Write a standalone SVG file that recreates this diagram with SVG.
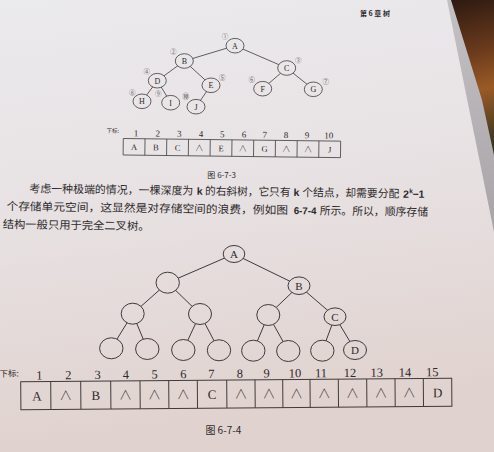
<svg xmlns="http://www.w3.org/2000/svg" width="494" height="452" viewBox="0 0 494 452">
<defs>
<linearGradient id="paper" gradientUnits="userSpaceOnUse" x1="0" y1="0" x2="60" y2="452">
<stop offset="0" stop-color="#ebeaed"/>
<stop offset="0.45" stop-color="#e8e2e4"/>
<stop offset="1" stop-color="#e0d2ce"/>
</linearGradient>
<linearGradient id="band" gradientUnits="userSpaceOnUse" x1="450" y1="0" x2="494" y2="220">
<stop offset="0" stop-color="#c4c1c5"/>
<stop offset="1" stop-color="#a9a5a9"/>
</linearGradient>
<linearGradient id="dark" gradientUnits="userSpaceOnUse" x1="455" y1="0" x2="494" y2="150">
<stop offset="0" stop-color="#2e1a12"/>
<stop offset="0.35" stop-color="#6a3a1c"/>
<stop offset="0.6" stop-color="#9a5a26"/>
<stop offset="1" stop-color="#2f3320"/>
</linearGradient>
</defs>
<style>
.edge{stroke:#3f3a3c;fill:none}
.e1{stroke-width:0.8}
.e2{stroke-width:1}
.nd{fill:url(#paper);stroke:#3f3a3c}
.n1{stroke-width:0.8}
.n2{stroke-width:1}
.lt{font-family:"Liberation Serif","DejaVu Serif",serif;fill:#2e2a2c;text-anchor:middle}
.cn{font-family:"Noto Sans CJK SC","Noto Sans",sans-serif;fill:#2e2a2c}
.num{font-family:"Noto Sans CJK SC","DejaVu Sans",sans-serif;fill:#6a6466;text-anchor:middle;font-size:6.5px}
.cell{fill:none;stroke:#3f3a3c}
.bs{font-family:"Liberation Sans","DejaVu Sans",sans-serif;font-weight:bold;fill:#2e2a2c}
.nul{font-family:"Noto Sans CJK SC","DejaVu Sans",sans-serif;font-weight:300;fill:#3a3537;text-anchor:middle}
</style>
<rect x="0" y="0" width="494" height="452" fill="url(#paper)"/>
<polygon points="447,0 494,0 494,232" fill="url(#band)"/>
<polygon points="451,0 494,0 494,155 482,100" fill="url(#dark)"/>

<text class="cn" x="360" y="16" font-size="7" font-weight="bold">第 6 章  树</text>

<!-- Figure 6-7-3 tree -->
<g id="edges1">
<line class="edge e1" x1="235" y1="45.7" x2="184.3" y2="61"/>
<line class="edge e1" x1="235" y1="45.7" x2="286.7" y2="68"/>
<line class="edge e1" x1="184.3" y1="61" x2="157.3" y2="80.7"/>
<line class="edge e1" x1="184.3" y1="61" x2="211" y2="85.3"/>
<line class="edge e1" x1="286.7" y1="68" x2="262.7" y2="88.7"/>
<line class="edge e1" x1="286.7" y1="68" x2="313.3" y2="89.3"/>
<line class="edge e1" x1="157.3" y1="80.7" x2="142" y2="101.3"/>
<line class="edge e1" x1="157.3" y1="80.7" x2="170.7" y2="102.7"/>
<line class="edge e1" x1="211" y1="85.3" x2="196" y2="106.7"/>
</g>
<g id="t1A"><ellipse class="nd n1" cx="235" cy="45.7" rx="9" ry="7.3"/><text class="lt" x="235" y="48.6" font-size="8">A</text><text class="num" x="225" y="38.8">①</text></g>
<g id="t1B"><ellipse class="nd n1" cx="184.3" cy="61" rx="9" ry="7.3"/><text class="lt" x="184.3" y="63.9" font-size="8">B</text><text class="num" x="173.3" y="54.4">②</text></g>
<g id="t1C"><ellipse class="nd n1" cx="286.7" cy="68" rx="9" ry="7.3"/><text class="lt" x="286.7" y="70.9" font-size="8">C</text><text class="num" x="298.3" y="62.8">③</text></g>
<g id="t1D"><ellipse class="nd n1" cx="157.3" cy="80.7" rx="9" ry="7.3"/><text class="lt" x="157.3" y="83.6" font-size="8">D</text><text class="num" x="146.7" y="73.8">④</text></g>
<g id="t1E"><ellipse class="nd n1" cx="211" cy="85.3" rx="9" ry="7.3"/><text class="lt" x="211" y="88.2" font-size="8">E</text><text class="num" x="222.3" y="80.4">⑤</text></g>
<g id="t1F"><ellipse class="nd n1" cx="262.7" cy="88.7" rx="9" ry="7.3"/><text class="lt" x="262.7" y="91.6" font-size="8">F</text><text class="num" x="251.7" y="82.4">⑥</text></g>
<g id="t1G"><ellipse class="nd n1" cx="313.3" cy="89.3" rx="9" ry="7.3"/><text class="lt" x="313.3" y="92.2" font-size="8">G</text><text class="num" x="325.7" y="84.1">⑦</text></g>
<g id="t1H"><ellipse class="nd n1" cx="142" cy="101.3" rx="9" ry="7.3"/><text class="lt" x="142" y="104.2" font-size="8">H</text><text class="num" x="132.3" y="94.8">⑧</text></g>
<g id="t1I"><ellipse class="nd n1" cx="170.7" cy="102.7" rx="9" ry="7.3"/><text class="lt" x="170.7" y="105.6" font-size="8">I</text><text class="num" x="158.3" y="96.4">⑨</text></g>
<g id="t1J"><ellipse class="nd n1" cx="196" cy="106.7" rx="9" ry="7.3"/><text class="lt" x="196" y="109.6" font-size="8">J</text><text class="num" x="185.7" y="99.1" fill="#2e2a2c" font-weight="bold">⑩</text></g>

<!-- Figure 6-7-3 array -->
<g id="arr1" transform="rotate(0.7 123.3 138.5)">
<text class="cn" x="106.5" y="133" font-size="5.5" fill="#555">下标:</text>
<rect class="cell" x="123.3" y="138.5" width="217.4" height="16.5" stroke-width="0.8"/>
<path class="cell" stroke-width="0.8" d="M145.04 138.5v16.5M166.78 138.5v16.5M188.52 138.5v16.5M210.26 138.5v16.5M232 138.5v16.5M253.74 138.5v16.5M275.48 138.5v16.5M297.22 138.5v16.5M318.96 138.5v16.5"/>
<g class="lt" font-size="9">
<text x="136" y="136">1</text><text x="157.7" y="136">2</text><text x="179.3" y="136">3</text><text x="201" y="136">4</text><text x="222.3" y="136">5</text><text x="244" y="136">6</text><text x="264.7" y="136">7</text><text x="286" y="136">8</text><text x="307" y="136">9</text><text x="328.7" y="136">10</text>
</g>
<g class="lt" font-size="8.5">
<text x="134.2" y="150">A</text><text x="155.9" y="150">B</text><text x="177.7" y="150">C</text><text x="221.2" y="150">E</text><text x="264.7" y="150">G</text><text x="329.9" y="150">J</text>
</g>
<g class="nul" font-size="8.5">
<text x="199.4" y="150">∧</text><text x="242.9" y="150">∧</text><text x="286.4" y="150">∧</text><text x="308.1" y="150">∧</text>
</g>
</g>
<text x="221.7" y="178" font-size="8" class="cn" text-anchor="middle">图 6-7-3</text>

<!-- paragraph -->
<g transform="rotate(0.8 0 190)">
<text class="cn" font-size="11" y="192"><tspan x="29.3" textLength="164" lengthAdjust="spacingAndGlyphs">考虑一种极端的情况，一棵深度为</tspan></text>
<text class="bs" font-size="10.5" x="196.8" y="192">k</text>
<text class="cn" font-size="11" y="192"><tspan x="205" textLength="85.5" lengthAdjust="spacingAndGlyphs">的右斜树，它只有</tspan></text>
<text class="bs" font-size="10.5" x="293.5" y="192">k</text>
<text class="cn" font-size="11" y="192"><tspan x="302.2" textLength="97.1" lengthAdjust="spacingAndGlyphs">个结点，却需要分配</tspan></text>
<text class="bs" font-size="10.5" x="403" y="192">2</text>
<text class="bs" font-size="6.5" x="409.3" y="187.5">k</text>
<text class="bs" font-size="10.5" x="412.5" y="192">−1</text>
<text class="cn" font-size="11" y="210"><tspan x="6.7" textLength="281.6" lengthAdjust="spacingAndGlyphs">个存储单元空间，这显然是对存储空间的浪费，例如图</tspan></text>
<text class="bs" font-size="10" x="294" y="210" textLength="22.7" lengthAdjust="spacingAndGlyphs">6-7-4</text>
<text class="cn" font-size="11" y="210"><tspan x="320" textLength="108.3" lengthAdjust="spacingAndGlyphs">所示。所以，顺序存储</tspan></text>
<text class="cn" font-size="11" y="228"><tspan x="3.3" textLength="146.7" lengthAdjust="spacingAndGlyphs">结构一般只用于完全二叉树。</tspan></text>
</g>

<!-- Figure 6-7-4 tree -->
<g id="edges2">
<line class="edge e2" x1="234" y1="254" x2="167.7" y2="282.7"/>
<line class="edge e2" x1="234" y1="254" x2="299" y2="285.7"/>
<line class="edge e2" x1="167.7" y1="282.7" x2="132.7" y2="313.7"/>
<line class="edge e2" x1="167.7" y1="282.7" x2="200" y2="314"/>
<line class="edge e2" x1="299" y1="285.7" x2="268.3" y2="315"/>
<line class="edge e2" x1="299" y1="285.7" x2="335" y2="316.7"/>
<line class="edge e2" x1="132.7" y1="313.7" x2="111.3" y2="348.3"/>
<line class="edge e2" x1="132.7" y1="313.7" x2="147.3" y2="349"/>
<line class="edge e2" x1="200" y1="314" x2="183.3" y2="350"/>
<line class="edge e2" x1="200" y1="314" x2="219" y2="350.3"/>
<line class="edge e2" x1="268.3" y1="315" x2="253.3" y2="350.7"/>
<line class="edge e2" x1="268.3" y1="315" x2="288.3" y2="351"/>
<line class="edge e2" x1="335" y1="316.7" x2="322.3" y2="350.7"/>
<line class="edge e2" x1="335" y1="316.7" x2="355" y2="350"/>
</g>
<g id="t2A"><ellipse class="nd n2" cx="234" cy="254" rx="10.8" ry="8.5"/><text class="lt" x="234" y="258" font-size="11">A</text></g>
<g id="t2n2"><ellipse class="nd n2" cx="167.7" cy="282.7" rx="11.7" ry="10.5"/></g>
<g id="t2B"><ellipse class="nd n2" cx="299" cy="285.7" rx="11" ry="8.8"/><text class="lt" x="299" y="289.7" font-size="11">B</text></g>
<g id="t2n4"><ellipse class="nd n2" cx="132.7" cy="313.7" rx="11.5" ry="10.5"/></g>
<g id="t2n5"><ellipse class="nd n2" cx="200" cy="314" rx="11.5" ry="10.5"/></g>
<g id="t2n6"><ellipse class="nd n2" cx="268.3" cy="315" rx="11.5" ry="10.5"/></g>
<g id="t2C"><ellipse class="nd n2" cx="335" cy="316.7" rx="11" ry="8.8"/><text class="lt" x="335" y="320.7" font-size="11">C</text></g>
<g id="t2n8"><ellipse class="nd n2" cx="111.3" cy="348.3" rx="11.7" ry="10.5"/></g>
<g id="t2n9"><ellipse class="nd n2" cx="147.3" cy="349" rx="11.7" ry="10.5"/></g>
<g id="t2n10"><ellipse class="nd n2" cx="183.3" cy="350" rx="11.7" ry="10.5"/></g>
<g id="t2n11"><ellipse class="nd n2" cx="219" cy="350.3" rx="11.7" ry="10.5"/></g>
<g id="t2n12"><ellipse class="nd n2" cx="253.3" cy="350.7" rx="11.7" ry="10.5"/></g>
<g id="t2n13"><ellipse class="nd n2" cx="288.3" cy="351" rx="11.7" ry="10.5"/></g>
<g id="t2n14"><ellipse class="nd n2" cx="322.3" cy="350.7" rx="11.7" ry="10.5"/></g>
<g id="t2D"><ellipse class="nd n2" cx="355" cy="350" rx="11.5" ry="9.5"/><text class="lt" x="355" y="354" font-size="11">D</text></g>

<!-- Figure 6-7-4 array -->
<g id="arr2" transform="rotate(-0.45 20.7 381.7)">
<text class="cn" x="-0.5" y="376.5" font-size="8.5" fill="#555">下标:</text>
<rect class="cell" x="20.7" y="381.7" width="431" height="28" stroke-width="1"/>
<path class="cell" stroke-width="1" d="M50.7 381.7v28M80.7 381.7v28M110.7 381.7v28M140 381.7v28M168.7 381.7v28M197.3 381.7v28M226.7 381.7v28M255 381.7v28M282.7 381.7v28M310 381.7v28M338.3 381.7v28M366.7 381.7v28M395 381.7v28M423.3 381.7v28"/>
<g class="lt" font-size="12.5">
<text x="39.3" y="379.5">1</text><text x="68.3" y="379.5">2</text><text x="97.7" y="379.5">3</text><text x="126" y="379.5">4</text><text x="154.7" y="379.5">5</text><text x="183.3" y="379.5">6</text><text x="211.3" y="379.5">7</text><text x="240" y="379.5">8</text><text x="266.7" y="379.5">9</text><text x="295" y="379.5">10</text><text x="321" y="379.5">11</text><text x="350" y="379.5">12</text><text x="376.7" y="379.5">13</text><text x="405" y="379.5">14</text><text x="432.3" y="379.5">15</text>
</g>
<g class="lt" font-size="13">
<text x="36.7" y="400.5">A</text><text x="95.7" y="400.5">B</text><text x="212" y="400.5">C</text><text x="437.5" y="400.5">D</text>
</g>
<g class="nul" font-size="13">
<text x="65.7" y="400.5">∧</text><text x="125.35" y="400.5">∧</text><text x="154.35" y="400.5">∧</text><text x="183" y="400.5">∧</text><text x="240.85" y="400.5">∧</text><text x="268.85" y="400.5">∧</text><text x="296.35" y="400.5">∧</text><text x="324.15" y="400.5">∧</text><text x="352.5" y="400.5">∧</text><text x="380.85" y="400.5">∧</text><text x="409.15" y="400.5">∧</text>
</g>
</g>
<text x="223.3" y="433.5" font-size="10" class="cn" text-anchor="middle">图 6-7-4</text>
</svg>
